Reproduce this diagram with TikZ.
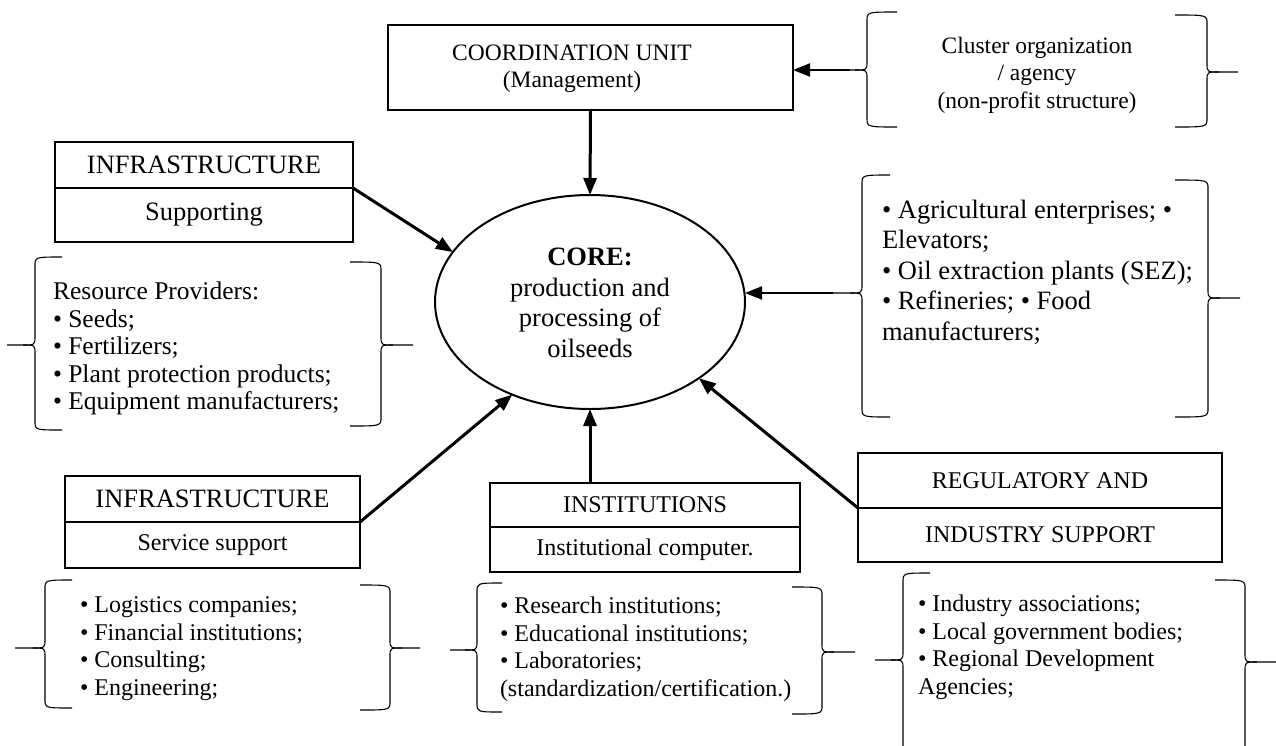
\documentclass[tikz,border=0pt]{standalone}
\usepackage{fontspec}
\setmainfont{Liberation Serif}
\usetikzlibrary{arrows.meta,shapes.geometric}

% Curly bracket opening to the right: #1 tip name, #2 spine x, #3 arm end x,
% #4 top y, #5 bottom y, #6 tip x, #7 tip y
\newcommand{\BraceOpen}[7]{%
  \draw[curl] (#3,#4) .. controls (#2,#4) .. (#2,#4+9) -- (#2,#7-9)
     .. controls (#2,#7) .. (#2-12,#7) -- (#6,#7);
  \draw[curl] (#2-12,#7) .. controls (#2,#7) .. (#2,#7+9) -- (#2,#5-9)
     .. controls (#2,#5) .. (#3,#5);
  \coordinate (#1) at (#6,#7);}
% Curly bracket closing to the right, same arguments
\newcommand{\BraceClose}[7]{%
  \draw[curl] (#3,#4) .. controls (#2,#4) .. (#2,#4+9) -- (#2,#7-9)
     .. controls (#2,#7) .. (#2+12,#7) -- (#6,#7);
  \draw[curl] (#2+12,#7) .. controls (#2,#7) .. (#2,#7+9) -- (#2,#5-9)
     .. controls (#2,#5) .. (#3,#5);
  \coordinate (#1) at (#6,#7);}

\begin{document}
\begin{tikzpicture}[x=1pt,y=-1pt,
  every node/.style={font=\fontsize{24}{27.5}\selectfont, inner sep=0pt, outer sep=0pt},
  smalltext/.style={font=\fontsize{23.5}{27.5}\selectfont},
  midtext/.style={font=\fontsize{25.5}{27.5}\selectfont},
  bigtext/.style={font=\fontsize{26.5}{30.5}\selectfont},
  frame/.style={draw, line width=2.5pt},
  curl/.style={line width=1.1pt},
  link/.style={line width=3pt, -{Triangle[length=17pt,width=13pt]}},
  thinlink/.style={line width=2pt, -{Triangle[length=17pt,width=13pt]}},
  listtext/.style={align=left, anchor=north west},
]
\useasboundingbox (0,0) rectangle (1276,745);

% coordination unit
\node[frame, minimum width=405pt, minimum height=85pt] (coord) at (590.5,67.5) {};
\node[smalltext, align=center] (coordTxt) at (572,69) {COORDINATION UNIT\\(Management)};

% cluster organization
\BraceOpen{clTip}{867}{897}{12}{127}{850}{70}
\BraceClose{clEnd}{1207}{1175}{15}{127}{1238}{72}
\node[smalltext, align=center] (clTxt) at (1037,75) {Cluster organization\\/ agency\\(non-profit structure)};

% core
\node[draw, ellipse, line width=2pt, minimum width=310pt, minimum height=214pt] (core) at (590,302) {};
\node[bigtext, align=center] (coreTxt) at (590,303)
  {\textbf{CORE:}\\production and\\processing of\\oilseeds};

% supporting infrastructure
\node[frame, bigtext, minimum width=298pt, minimum height=46pt, anchor=north west] (supT) at (55,142) {INFRASTRUCTURE};
\node[frame, bigtext, minimum width=298pt, minimum height=54pt, anchor=north] (supB) at (supT.south) {Supporting};

% resource providers
\BraceOpen{resTip}{35}{62}{257}{430}{7}{345}
\BraceClose{resEnd}{381}{350}{262}{426}{413}{345}
\node[listtext, midtext] (resTxt) at (53,282) {Resource Providers:\\• Seeds;\\• Fertilizers;\\• Plant protection products;\\• Equipment manufacturers;};

% enterprises
\BraceOpen{entTip}{862}{890}{175}{417}{833}{293}
\BraceClose{entEnd}{1208}{1175}{180}{417}{1240}{298}
\node[listtext, bigtext] (entTxt) at (882,200) {• Agricultural enterprises; •\\Elevators;\\• Oil extraction plants (SEZ);\\• Refineries; • Food\\manufacturers;};

% service infrastructure
\node[frame, bigtext, minimum width=295pt, minimum height=46pt, anchor=north west] (serT) at (65,476) {INFRASTRUCTURE};
\node[frame, minimum width=295pt, minimum height=46pt, anchor=north] (serB) at (serT.south) {Service support};
\BraceOpen{serTip}{45}{72}{580}{708}{15}{648}
\BraceClose{serEnd}{390}{360}{585}{710}{420}{648}
\node[listtext] (serTxt) at (80,597) {• Logistics companies;\\• Financial institutions;\\• Consulting;\\• Engineering;};

% institutions
\node[frame, minimum width=310pt, minimum height=44pt, anchor=north west] (instT) at (490,483) {INSTITUTIONS};
\node[frame, minimum width=310pt, minimum height=45pt, anchor=north] (instB) at (instT.south) {Institutional computer.};
\BraceOpen{instTip}{477}{502}{583}{712}{450}{650}
\BraceClose{instEnd}{822}{792}{587}{714}{855}{652}
\node[listtext] (instTxt) at (500,597) {• Research institutions;\\• Educational institutions;\\• Laboratories;\\(standardization/certification.)};

% regulatory and industry support
\node[frame, minimum width=364pt, minimum height=55pt, anchor=north west] (regT) at (858,453) {REGULATORY AND};
\node[frame, minimum width=364pt, minimum height=54pt, anchor=north] (regB) at (regT.south) {INDUSTRY SUPPORT};
\BraceOpen{regTip}{903}{930}{573}{760}{875}{660}
\BraceClose{regEnd}{1245}{1215}{580}{760}{1276}{662}
\node[listtext] (regTxt) at (918,595) {• Industry associations;\\• Local government bodies;\\• Regional Development\\Agencies;};

% connectors into the core
\draw[link] (coord.south) -- (core.north);
\draw[thinlink] (clTip) -- (clTip -| coord.east);
\draw[link] (supT.south east) -- (core.160);
\draw[thinlink] (entTip) -- (entTip -| core.east);
\draw[link] (serT.south east) -- (core.230);
\draw[link] (core.south |- instT.north) -- (core.south);
\draw[link] (regT.south west) -- (core.325);
\end{tikzpicture}
\end{document}
